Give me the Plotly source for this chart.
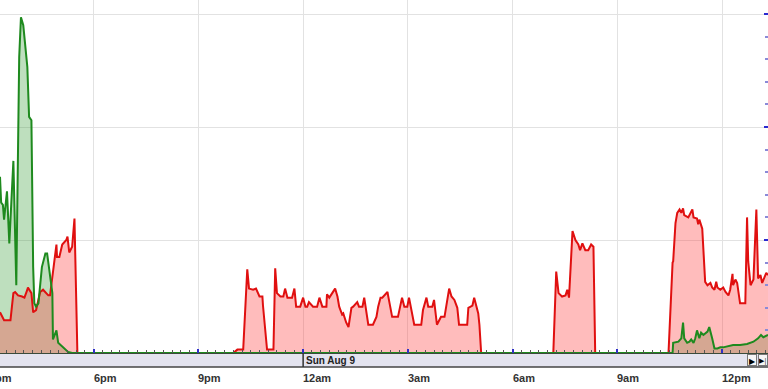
import pandas as pd
import plotly.graph_objects as go

# ---------------- data ----------------
red_times = [
    "15:19", "15:23", "15:26", "15:37", "15:42", "15:45", "15:50", "15:57", "16:01", "16:06",
    "16:07", "16:13", "16:16", "16:21", "16:23", "16:28", "16:33", "16:37", "16:42", "16:45",
    "16:56", "16:57", "17:01", "17:06", "17:13", "17:15", "17:18", "17:23", "17:27", "17:32",
    "22:00", "22:07", "22:17", "22:24", "22:27", "22:34", "22:39", "22:45", "22:50", "22:51",
    "22:55", "22:58", "23:09", "23:12", "23:15", "23:21", "23:26", "23:29", "23:33", "23:41",
    "23:45", "23:48", "23:55", "00:00", "00:04", "00:07", "00:10", "00:17", "00:24", "00:28",
    "00:33", "00:40", "00:41", "00:45", "00:55", "00:59", "01:02", "01:07", "01:09", "01:14",
    "01:18", "01:23", "01:26", "01:33", "01:36", "01:42", "01:45", "01:52", "02:00", "02:06",
    "02:09", "02:13", "02:16", "02:19", "02:25", "02:26", "02:33", "02:43", "02:50", "02:54",
    "02:59", "03:02", "03:11", "03:23", "03:26", "03:32", "03:35", "03:42", "03:45", "03:50",
    "03:52", "03:57", "04:03", "04:08", "04:11", "04:15", "04:20", "04:25", "04:28", "04:42",
    "04:44", "04:51", "04:54", "04:58", "05:01", "05:03", "05:06",
    "07:10", "07:15", "07:19", "07:25", "07:31", "07:34", "07:37", "07:43", "07:48", "07:53",
    "07:56", "08:00", "08:05", "08:10", "08:15", "08:19", "08:22",
    "10:28", "10:35", "10:36", "10:40", "10:43", "10:47", "10:50", "10:53", "10:55", "11:02",
    "11:09", "11:11", "11:17", "11:19", "11:21", "11:26", "11:31", "11:35", "11:40", "11:43",
    "11:47", "11:50", "11:52", "11:57", "12:02", "12:06", "12:11", "12:14", "12:18", "12:19",
    "12:23", "12:26", "12:31", "12:40", "12:43", "12:45", "12:49", "12:54", "12:59", "13:02",
    "13:06", "13:09", "13:16", "13:19",
]
red_values = [
    36, 32, 29, 29, 53, 54, 51, 50, 49, 56,
    58, 53, 36, 38, 42, 54, 56, 54, 51, 51,
    96, 85, 85, 96, 100, 103, 89, 94, 119, 0,
    0, 3, 3, 74, 57, 56, 57, 50, 50, 42,
    19, 3, 3, 75, 53, 50, 50, 57, 49, 49,
    57, 41, 41, 49, 41, 41, 45, 41, 41, 49,
    41, 41, 52, 49, 57, 50, 41, 34, 35, 27,
    23, 40, 41, 45, 41, 41, 49, 25, 25, 32,
    41, 49, 49, 51, 54, 51, 32, 32, 49, 41,
    41, 49, 25, 25, 38, 49, 41, 41, 47, 25,
    27, 32, 32, 49, 57, 50, 47, 40, 25, 25,
    40, 42, 49, 41, 35, 25, 0,
    0, 72, 53, 50, 51, 56, 49, 108, 100, 96,
    91, 97, 91, 91, 96, 94, 0,
    0, 80, 81, 115, 124, 127, 124, 128, 122, 120,
    127, 120, 119, 114, 118, 110, 63, 60, 62, 58,
    56, 63, 58, 56, 58, 54, 51, 56, 70, 60,
    65, 62, 44, 44, 120, 81, 60, 65, 127, 66,
    69, 62, 71, 69,
]

green_times = [
    "15:19", "15:21", "15:24", "15:26", "15:31", "15:35", "15:42", "15:47", "15:52", "15:55",
    "15:59", "16:06", "16:09", "16:13", "16:16", "16:18", "16:21", "16:25", "16:31", "16:37",
    "16:40", "16:44", "16:49", "16:50", "16:56", "16:59", "17:08", "17:16", "17:23",
    "10:35", "10:36", "10:45", "10:50", "10:53", "10:55", "11:00", "11:04", "11:07", "11:11",
    "11:14", "11:17", "11:21", "11:24", "11:28", "11:35", "11:38", "11:43", "11:47", "11:52",
    "11:57", "12:02", "12:09", "12:19", "12:31", "12:43", "12:54", "13:02", "13:07", "13:11",
    "13:19",
]
green_values = [
    156, 133, 131, 118, 143, 97, 170, 60, 262, 297,
    290, 253, 209, 206, 76, 44, 41, 44, 76, 88,
    88, 71, 53, 12, 20, 9, 5, 1, 0,
    0, 9, 10, 13, 27, 13, 9, 10, 12, 9,
    13, 20, 13, 18, 16, 19, 23, 13, 4, 4,
    5, 5, 6, 7, 7, 8, 10, 13, 16, 14,
    16,
]

tick_times = ["2009-08-08 15:00", "2009-08-08 18:00", "2009-08-08 21:00", "2009-08-09 00:00",
              "2009-08-09 03:00", "2009-08-09 06:00", "2009-08-09 09:00", "2009-08-09 12:00"]
tick_labels = ["3pm", "6pm", "9pm", "12am", "3am", "6am", "9am", "12pm"]
date_label = "Sun Aug 9"
date_label_time = "2009-08-09 00:00"

x_start = "2009-08-08 15:19"
x_end = "2009-08-09 13:19"


def to_datetimes(times, start_day="2009-08-08"):
    out = []
    day = pd.Timestamp(start_day)
    prev = None
    for t in times:
        h, m = map(int, t.split(":"))
        mins = h * 60 + m
        if prev is not None and mins < prev:
            day = day + pd.Timedelta(days=1)
        prev = mins
        out.append(day + pd.Timedelta(minutes=mins))
    return out


red_x = to_datetimes(red_times)
green_x = to_datetimes(green_times)

RED = "#e01010"
GREEN = "#1e8a1e"
PLOT_H = 353.0
BAND = 14.0

fig = go.Figure()
fig.add_trace(go.Scatter(x=green_x, y=green_values, mode="lines", fill="tozeroy",
                         fillcolor="rgba(40,150,40,0.30)", line=dict(width=0),
                         hoverinfo="skip", showlegend=False))
fig.add_trace(go.Scatter(x=red_x, y=red_values, mode="lines", fill="tozeroy",
                         fillcolor="rgba(255,70,70,0.36)", line=dict(width=0),
                         hoverinfo="skip", showlegend=False))
fig.add_trace(go.Scatter(x=red_x, y=red_values, mode="lines",
                         line=dict(color=RED, width=2), showlegend=False))
fig.add_trace(go.Scatter(x=green_x, y=green_values, mode="lines",
                         line=dict(color=GREEN, width=2), showlegend=False))

t0 = pd.Timestamp(x_start)
t1 = pd.Timestamp(x_end)
span = (t1 - t0).total_seconds()

annotations = []
for tt, lab in zip(tick_times, tick_labels):
    frac = (pd.Timestamp(tt) - t0).total_seconds() / span
    annotations.append(dict(x=frac, xref="paper", y=-25 / PLOT_H, yref="paper",
                            text="<b>" + lab + "</b>", showarrow=False, xanchor="left",
                            yanchor="middle", xshift=-2,
                            font=dict(family="Liberation Sans, Arial", size=11, color="#333333")))
annotations.append(dict(x=date_label_time, xref="x", y=-7 / PLOT_H, yref="paper",
                        text="<b>" + date_label + "</b>", showarrow=False, xanchor="left",
                        yanchor="middle", xshift=1,
                        font=dict(family="Liberation Sans, Arial", size=10, color="#222222")))
# navigation buttons
annotations.append(dict(x=1, xref="paper", xanchor="right", xshift=-11, y=-7 / PLOT_H,
                        yref="paper", yanchor="middle", text="▶", showarrow=False,
                        bgcolor="#f6f6f6", bordercolor="#777777", borderwidth=1, borderpad=0,
                        width=8, height=10, font=dict(size=8, color="#000000")))
annotations.append(dict(x=1, xref="paper", xanchor="right", xshift=0, y=-7 / PLOT_H,
                        yref="paper", yanchor="middle", text="▶|", showarrow=False,
                        bgcolor="#f6f6f6", bordercolor="#777777", borderwidth=1, borderpad=0,
                        width=8, height=10, font=dict(size=7, color="#000000")))

shapes = [
    dict(type="rect", xref="paper", yref="paper", x0=0, x1=1, y0=-BAND / PLOT_H, y1=0,
         fillcolor="#e3e3ef", line=dict(width=0), layer="below"),
    dict(type="line", xref="paper", yref="paper", x0=0, x1=1, y0=-BAND / PLOT_H,
         y1=-BAND / PLOT_H, line=dict(color="#444444", width=1.5)),
    dict(type="line", xref="x", yref="paper", x0=date_label_time, x1=date_label_time,
         y0=-BAND / PLOT_H, y1=0, line=dict(color="#333333", width=1.5)),
]

fig.update_layout(
    width=768, height=389,
    margin=dict(l=0, r=0, t=0, b=36, pad=0),
    paper_bgcolor="white", plot_bgcolor="white",
    showlegend=False,
    annotations=annotations,
    shapes=shapes,
    xaxis=dict(type="date", range=[x_start, x_end], showgrid=True, gridcolor="#e2e2e2",
               gridwidth=1, tick0="2009-08-08 00:00", dtick=3 * 3600 * 1000,
               ticks="inside", ticklen=4, tickcolor="#3030c8", tickwidth=2,
               showticklabels=False, showline=True, linecolor="#3a4a3a", linewidth=1,
               zeroline=False,
               minor=dict(dtick=15 * 60 * 1000, ticks="inside", ticklen=3,
                          tickcolor="#555555", tickwidth=1, showgrid=False)),
    yaxis=dict(range=[0, PLOT_H / 1.13], side="right", showgrid=True, gridcolor="#e2e2e2",
               dtick=100, ticks="inside", ticklen=4, tickcolor="#2a2ad0", tickwidth=2,
               showticklabels=False, zeroline=False, showline=False,
               minor=dict(dtick=20, ticks="inside", ticklen=3, tickcolor="#8a8ad8",
                          showgrid=False)),
)

fig.write_html("out.html")
